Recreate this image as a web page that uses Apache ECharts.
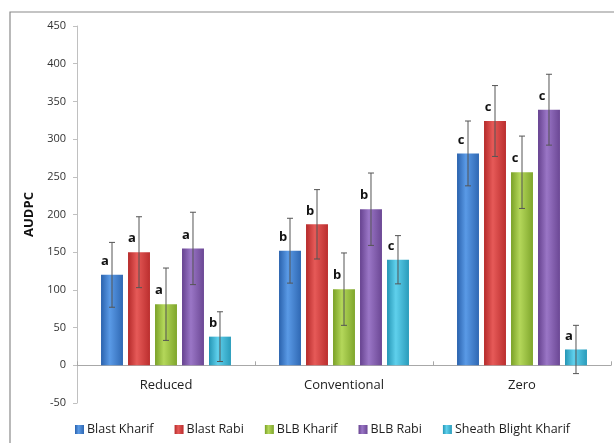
<!DOCTYPE html>
<html>
<head>
<meta charset="utf-8">
<script src="https://cdn.jsdelivr.net/npm/echarts@6/dist/echarts.min.js"></script>
<style>
html,body{margin:0;padding:0;background:#fff;}
#chart{width:614px;height:443px;}
</style>
</head>
<body>
<div id="chart"></div>
<script>
var categories = ['Reduced', 'Conventional', 'Zero'];
var seriesNames = ['Blast Kharif', 'Blast Rabi', 'BLB Kharif', 'BLB Rabi', 'Sheath Blight Kharif'];
var blastKharif = [120, 152, 281];
var blastRabi = [150, 187, 324];
var blbKharif = [81, 101, 256];
var blbRabi = [155, 207, 339];
var sheathBlightKharif = [38, 140, 21];
var errBlastKharif = [43, 43, 43];
var errBlastRabi = [47, 46, 47];
var errBlbKharif = [48, 48, 48];
var errBlbRabi = [48, 48, 47];
var errSheathBlightKharif = [33, 32, 32];
var lettersBlastKharif = ['a', 'b', 'c'];
var lettersBlastRabi = ['a', 'b', 'c'];
var lettersBlbKharif = ['a', 'b', 'c'];
var lettersBlbRabi = ['a', 'b', 'c'];
var lettersSheathBlightKharif = ['b', 'c', 'a'];
var yTicks = [-50, 0, 50, 100, 150, 200, 250, 300, 350, 400, 450];

var values = [blastKharif, blastRabi, blbKharif, blbRabi, sheathBlightKharif];
var errors = [errBlastKharif, errBlastRabi, errBlbKharif, errBlbRabi, errSheathBlightKharif];
var letters = [lettersBlastKharif, lettersBlastRabi, lettersBlbKharif, lettersBlbRabi, lettersSheathBlightKharif];

var palette = [
  ['#2a62ad', '#5a9ae6', '#2f68b3'],
  ['#b52a2a', '#e65a58', '#bb2e2e'],
  ['#7aa127', '#b4d75a', '#7fa62c'],
  ['#66428f', '#9a76c6', '#6b4794'],
  ['#2596b5', '#5fd0ec', '#2a9cbb']
];
function grad(c) {
  return new echarts.graphic.LinearGradient(0, 0, 1, 0, [
    {offset: 0, color: c[0]}, {offset: 0.4, color: c[1]}, {offset: 1, color: c[2]}
  ]);
}

var CAT_GAP = 0.27, BAR_GAP = 0.23, N = 5;
var FONT = "'Open Sans', 'Liberation Sans', sans-serif";

var series = [];
values.forEach(function (vals, i) {
  series.push({
    name: seriesNames[i],
    type: 'bar',
    data: vals,
    barCategoryGap: (CAT_GAP * 100) + '%',
    barGap: (BAR_GAP * 100) + '%',
    itemStyle: {color: grad(palette[i])},
    label: {
      show: true,
      position: 'top',
      offset: [-7, -2],
      fontFamily: FONT,
      fontWeight: 'bold',
      fontSize: 13,
      color: '#111',
      formatter: (function (idx) { return function (p) { return letters[idx][p.dataIndex]; }; })(i)
    },
    z: 2
  });
});
values.forEach(function (vals, i) {
  var data = vals.map(function (v, k) { return [k, v - errors[i][k], v + errors[i][k]]; });
  series.push({
    name: seriesNames[i] + ' err',
    type: 'custom',
    data: data,
    z: 5,
    silent: true,
    renderItem: function (params, api) {
      var band = api.size([1, 0])[0];
      var usable = band * (1 - CAT_GAP);
      var bw = usable / (N + (N - 1) * BAR_GAP);
      var center = api.coord([api.value(0), 0])[0];
      var x = center - usable / 2 + i * bw * (1 + BAR_GAP) + bw / 2;
      var lo = api.coord([api.value(0), api.value(1)])[1];
      var hi = api.coord([api.value(0), api.value(2)])[1];
      var cw = 3;
      var st = {stroke: '#555', lineWidth: 1};
      return {
        type: 'group',
        children: [
          {type: 'line', shape: {x1: x, y1: lo, x2: x, y2: hi}, style: st},
          {type: 'line', shape: {x1: x - cw, y1: lo, x2: x + cw, y2: lo}, style: st},
          {type: 'line', shape: {x1: x - cw, y1: hi, x2: x + cw, y2: hi}, style: st}
        ]
      };
    }
  });
});

var chart = echarts.init(document.getElementById('chart'), null, {renderer: 'canvas'});
chart.setOption({
  animation: false,
  backgroundColor: '#fff',
  graphic: [{
    type: 'rect',
    shape: {x: 10, y: 12, width: 640, height: 460},
    style: {fill: 'none', stroke: '#8a8a8a', lineWidth: 1.2},
    z: 0
  }],
  grid: {left: 77, right: 3, top: 26, bottom: 40, containLabel: false},
  legend: {
    data: seriesNames,
    top: 418,
    left: 70,
    icon: 'rect',
    itemWidth: 9,
    itemHeight: 9,
    itemGap: 21,
    textStyle: {fontFamily: FONT, fontSize: 12.5, color: '#222', padding: [0, 0, 0, -2]}
  },
  xAxis: {
    type: 'category',
    data: categories,
    axisLine: {onZero: true, lineStyle: {color: '#a8a8a8'}},
    axisTick: {show: true, inside: true, length: 4, alignWithLabel: false, lineStyle: {color: '#a8a8a8'}},
    axisLabel: {fontFamily: FONT, fontSize: 13, color: '#222', margin: -24}
  },
  yAxis: {
    type: 'value',
    min: yTicks[0],
    max: yTicks[yTicks.length - 1],
    interval: 50,
    name: 'AUDPC',
    nameLocation: 'middle',
    nameGap: 37,
    nameTextStyle: {fontFamily: FONT, fontWeight: 'bold', fontSize: 13, color: '#111'},
    axisLine: {show: true, lineStyle: {color: '#c0c0c0'}},
    axisTick: {show: true, length: 4, lineStyle: {color: '#c0c0c0'}},
    splitLine: {show: false},
    axisLabel: {fontFamily: FONT, fontSize: 11, color: '#333', margin: 11}
  },
  series: series
});
</script>
</body>
</html>
